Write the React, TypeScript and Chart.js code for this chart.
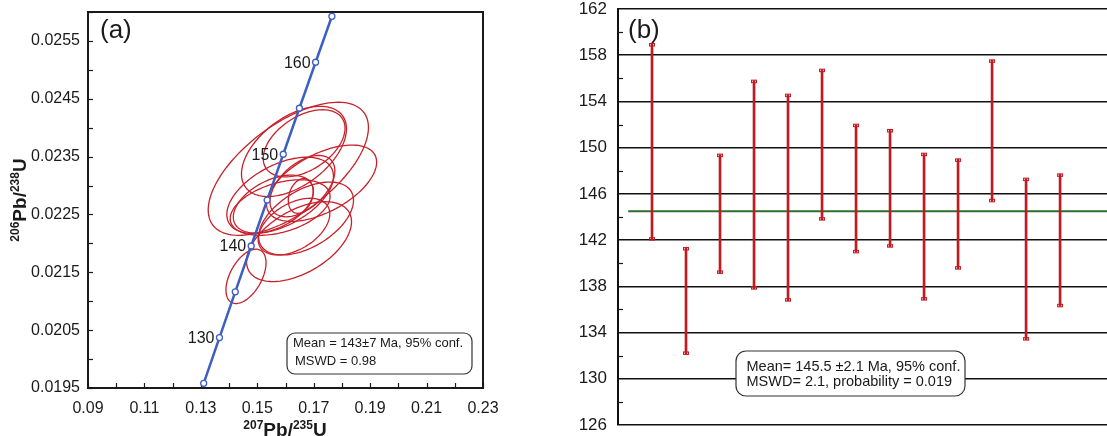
import React, { useEffect, useRef } from 'react';
import { Chart, registerables } from 'chart.js';

Chart.register(...registerables);

const FONT = '"Liberation Sans", Arial, Helvetica, sans-serif';
const BLUE = '#3d5fc2';
const ELL_RED = '#c8202a';
const BAR_RED = '#c21a22';
const GREEN = '#2f6b2f';
const INK = '#1a1a1a';

// ---------- Panel (a): concordia ----------
const concordiaAges = [125, 130, 135, 140, 145, 150, 155, 160, 165];
const concordiaX = [0.13100, 0.13659, 0.14220, 0.14784, 0.15350, 0.15920, 0.16492, 0.17067, 0.17645];
const concordiaY = [0.019580, 0.020371, 0.021163, 0.021955, 0.022748, 0.023541, 0.024336, 0.025131, 0.025926];
const labelledAges = [130, 140, 150, 160];

// error ellipses: centre, half-extent in x and y, correlation
const ellCx = [0.1610, 0.1630, 0.1666, 0.1728, 0.1581, 0.1581, 0.1654, 0.1660, 0.1673, 0.1648, 0.1630, 0.1460, 0.1557];
const ellCy = [0.02329, 0.02359, 0.02373, 0.02304, 0.02283, 0.02262, 0.02282, 0.02299, 0.02243, 0.02203, 0.02229, 0.02143, 0.02268];
const ellSx = [0.0284, 0.0186, 0.0145, 0.0195, 0.0189, 0.0177, 0.0044, 0.0115, 0.0168, 0.0186, 0.0127, 0.0071, 0.0142];
const ellSy = [0.00115, 0.00078, 0.00058, 0.00066, 0.00066, 0.00048, 0.00030, 0.00053, 0.00063, 0.00069, 0.00049, 0.00047, 0.00050];
const ellRho = [0.62, 0.5, 0.45, 0.55, 0.5, 0.4, 0.25, 0.5, 0.5, 0.5, 0.45, 0.5, 0.45];

const xTicksA = [0.09, 0.10, 0.11, 0.12, 0.13, 0.14, 0.15, 0.16, 0.17, 0.18, 0.19, 0.20, 0.21, 0.22, 0.23];
const yTicksA = [0.0195, 0.0200, 0.0205, 0.0210, 0.0215, 0.0220, 0.0225, 0.0230, 0.0235, 0.0240, 0.0245, 0.0250, 0.0255, 0.0260];

const xTitleA: [string, boolean][] = [['207', true], ['Pb', false], ['/', false], ['235', true], ['U', false]];
const yTitleA: [string, boolean][] = [['206', true], ['Pb', false], ['/', false], ['238', true], ['U', false]];
const boxLinesA = ['Mean = 143\u00b17 Ma, 95% conf.', 'MSWD = 0.98'];

// ---------- Panel (b): weighted mean ----------
const spotIndex = [1, 2, 3, 4, 5, 6, 7, 8, 9, 10, 11, 12, 13];
const ageHigh = [158.97, 141.32, 149.40, 155.80, 154.59, 156.75, 151.99, 151.53, 149.48, 148.99, 157.56, 147.32, 147.69];
const ageLow = [142.04, 132.15, 139.16, 137.80, 136.76, 143.77, 140.94, 141.43, 136.85, 139.53, 145.36, 133.39, 136.27];
const weightedMean = 144.5;
const meanLineStart = 0.3;
const xMaxB = 14.38;
const yTicksB = [126, 128, 130, 132, 134, 136, 138, 140, 142, 144, 146, 148, 150, 152, 154, 156, 158, 160, 162];
const boxLinesB = ['Mean= 145.5 \u00b12.1 Ma, 95% conf.', 'MSWD= 2.1, probability = 0.019'];

function drawRich(ctx: CanvasRenderingContext2D, parts: [string, boolean][], x: number, y: number) {
  const main = `bold 19px ${FONT}`;
  const sup = `bold 12px ${FONT}`;
  const widths = parts.map(([t, s]) => { ctx.font = s ? sup : main; return ctx.measureText(t).width; });
  const total = widths.reduce((a, b) => a + b, 0);
  let cx = x - total / 2;
  ctx.textAlign = 'left';
  ctx.textBaseline = 'alphabetic';
  parts.forEach(([t, s], i) => {
    ctx.font = s ? sup : main;
    ctx.fillText(t, cx, s ? y - 7 : y);
    cx += widths[i];
  });
}

function roundBox(ctx: CanvasRenderingContext2D, x: number, y: number, w: number, h: number, r: number, lw: number) {
  ctx.beginPath();
  ctx.roundRect(x, y, w, h, r);
  ctx.fillStyle = '#fff';
  ctx.fill();
  ctx.lineWidth = lw;
  ctx.strokeStyle = '#333';
  ctx.stroke();
}

const noPad = (s: any) => { s.paddingTop = 0; s.paddingBottom = 0; };

const panelAPlugin = {
  id: 'panelA',
  beforeDatasetsDraw(chart: any) {
    const { ctx, chartArea: a, scales } = chart;
    const xs = scales.x, ys = scales.y;
    ctx.save();
    ctx.beginPath();
    ctx.rect(a.left, a.top, a.right - a.left, a.bottom - a.top);
    ctx.clip();
    ctx.strokeStyle = ELL_RED;
    ctx.lineWidth = 1.3;
    for (let i = 0; i < ellCx.length; i++) {
      const r = ellRho[i];
      const q = Math.sqrt(1 - r * r);
      ctx.beginPath();
      for (let k = 0; k <= 120; k++) {
        const t = (k / 120) * Math.PI * 2;
        const vx = ellCx[i] + ellSx[i] * Math.cos(t);
        const vy = ellCy[i] + ellSy[i] * (r * Math.cos(t) + q * Math.sin(t));
        const px = xs.getPixelForValue(vx);
        const py = ys.getPixelForValue(vy);
        if (k === 0) ctx.moveTo(px, py); else ctx.lineTo(px, py);
      }
      ctx.closePath();
      ctx.stroke();
    }
    ctx.restore();

    ctx.save();
    ctx.strokeStyle = INK;
    ctx.lineWidth = 1.2;
    xs.ticks.forEach((t: any) => {
      const px = Math.round(xs.getPixelForValue(t.value)) + 0.5;
      ctx.beginPath(); ctx.moveTo(px, a.bottom); ctx.lineTo(px, a.bottom - 5); ctx.stroke();
    });
    ys.ticks.forEach((t: any) => {
      const py = Math.round(ys.getPixelForValue(t.value)) + 0.5;
      ctx.beginPath(); ctx.moveTo(a.left, py); ctx.lineTo(a.left + 5, py); ctx.stroke();
    });
    ctx.lineWidth = 2;
    ctx.strokeRect(a.left, a.top, a.right - a.left, a.bottom - a.top);
    ctx.restore();
  },
  afterDraw(chart: any) {
    const { ctx, chartArea: a, scales } = chart;
    const xs = scales.x, ys = scales.y;
    ctx.save();
    ctx.fillStyle = INK;
    ctx.font = `16px ${FONT}`;
    ctx.textAlign = 'right';
    ctx.textBaseline = 'middle';
    labelledAges.forEach((age) => {
      const i = concordiaAges.indexOf(age);
      ctx.fillText(String(age), xs.getPixelForValue(concordiaX[i]) - 5, ys.getPixelForValue(concordiaY[i]) + 1);
    });
    ctx.font = `26px ${FONT}`;
    ctx.textAlign = 'left';
    ctx.fillText('(a)', a.left + 12, a.top + 19);

    roundBox(ctx, a.left + 199, a.bottom - 55, 185, 41, 8, 1.2);
    ctx.fillStyle = INK;
    ctx.font = `13px ${FONT}`;
    ctx.textAlign = 'left';
    ctx.textBaseline = 'middle';
    ctx.fillText(boxLinesA[0], a.left + 205, a.bottom - 44.5);
    ctx.fillText(boxLinesA[1], a.left + 207, a.bottom - 26.5);

    drawRich(ctx, xTitleA, (a.left + a.right) / 2 - 0.5, 436);
    ctx.translate(26, (a.top + a.bottom) / 2);
    ctx.rotate(-Math.PI / 2);
    drawRich(ctx, yTitleA, 0, 0);
    ctx.restore();
  },
};

const panelBPlugin = {
  id: 'panelB',
  beforeDatasetsDraw(chart: any) {
    const { ctx, chartArea: a, scales } = chart;
    const ys = scales.y;
    ctx.save();
    ctx.strokeStyle = INK;
    ctx.lineWidth = 1.2;
    ys.ticks.forEach((t: any) => {
      if ((t.value - yTicksB[0]) % 4 === 0) return;
      const py = Math.round(ys.getPixelForValue(t.value)) + 0.5;
      ctx.beginPath(); ctx.moveTo(a.left, py); ctx.lineTo(a.left + 5, py); ctx.stroke();
    });
    ctx.restore();
  },
  afterDatasetsDraw(chart: any) {
    const { ctx, scales } = chart;
    const xs = scales.x, ys = scales.y;
    ctx.save();
    ctx.strokeStyle = BAR_RED;
    ctx.lineWidth = 1;
    spotIndex.forEach((s, i) => {
      const px = xs.getPixelForValue(s);
      const top = ys.getPixelForValue(ageHigh[i]);
      const bot = ys.getPixelForValue(ageLow[i]);
      ctx.strokeRect(px - 2.5, top - 0.5, 5, 2.5);
      ctx.strokeRect(px - 2.5, bot - 2, 5, 2.5);
    });
    ctx.restore();
  },
  afterDraw(chart: any) {
    const { ctx, chartArea: a } = chart;
    ctx.save();
    ctx.fillStyle = INK;
    ctx.font = `26px ${FONT}`;
    ctx.textAlign = 'left';
    ctx.textBaseline = 'middle';
    ctx.fillText('(b)', a.left + 10, a.top + 22);

    roundBox(ctx, a.left + 118, a.bottom - 74, 229, 45, 10, 1.2);
    ctx.fillStyle = INK;
    ctx.font = `14.5px ${FONT}`;
    ctx.fillText(boxLinesB[0], a.left + 128.5, a.bottom - 58.5);
    ctx.fillText(boxLinesB[1], a.left + 128.5, a.bottom - 43);
    ctx.restore();
  },
};

export default function App() {
  const refA = useRef<HTMLCanvasElement>(null);
  const refB = useRef<HTMLCanvasElement>(null);

  useEffect(() => {
    const chartA = new Chart(refA.current!, {
      type: 'scatter',
      data: {
        datasets: [{
          data: concordiaAges.map((_, i) => ({ x: concordiaX[i], y: concordiaY[i] })),
          showLine: true,
          borderColor: BLUE,
          borderWidth: 2.5,
          pointRadius: 3,
          pointBackgroundColor: '#fff',
          pointBorderColor: BLUE,
          pointBorderWidth: 1.3,
          clip: false,
        }],
      },
      options: {
        animation: false,
        responsive: false,
        maintainAspectRatio: false,
        layout: { autoPadding: false, padding: { left: 0, right: 77, top: 12, bottom: 0 } },
        plugins: { legend: { display: false }, tooltip: { enabled: false } },
        scales: {
          x: {
            type: 'linear', min: 0.09, max: 0.23,
            afterBuildTicks: (s: any) => { s.ticks = xTicksA.map((v) => ({ value: v })); },
            afterFit: (s: any) => { s.height = 48; s.paddingLeft = 0; s.paddingRight = 0; },
            ticks: {
              autoSkip: false, maxRotation: 0, minRotation: 0, padding: 11, color: INK,
              font: { family: FONT, size: 16 },
              callback: (v: any, i: number) => (i % 2 === 0 ? Number(v).toFixed(2) : ''),
            },
            grid: { display: false, drawTicks: false },
            border: { display: false },
          },
          y: {
            type: 'linear', min: 0.0195, max: 0.026,
            afterBuildTicks: (s: any) => { s.ticks = yTicksA.map((v) => ({ value: v })); },
            afterFit: (s: any) => { s.width = 88; noPad(s); },
            ticks: {
              autoSkip: false, padding: 8, color: INK,
              font: { family: FONT, size: 16, lineHeight: 1 },
              callback: (v: any, i: number) => (i % 2 === 0 ? Number(v).toFixed(4) : ''),
            },
            grid: { display: false, drawTicks: false },
            border: { display: false },
          },
        },
      },
      plugins: [panelAPlugin],
    } as any);

    const chartB = new Chart(refB.current!, {
      type: 'bar',
      data: {
        datasets: [
          {
            type: 'bar',
            data: spotIndex.map((s, i) => ({ x: s, y: [ageLow[i], ageHigh[i]] })),
            backgroundColor: BAR_RED,
            barThickness: 2,
            borderWidth: 0,
            order: 1,
          } as any,
          {
            type: 'line',
            data: [{ x: meanLineStart, y: weightedMean }, { x: xMaxB, y: weightedMean }],
            borderColor: GREEN,
            borderWidth: 2,
            pointRadius: 0,
            order: 2,
          },
        ],
      },
      options: {
        animation: false,
        responsive: false,
        maintainAspectRatio: false,
        layout: { autoPadding: false, padding: { left: 0, right: 0, top: 9, bottom: 11 } },
        plugins: { legend: { display: false }, tooltip: { enabled: false } },
        scales: {
          x: { type: 'linear', min: 0, max: xMaxB, offset: false, display: false },
          y: {
            type: 'linear', min: 126, max: 162,
            afterBuildTicks: (s: any) => { s.ticks = yTicksB.map((v) => ({ value: v })); },
            afterFit: (s: any) => { s.width = 58; noPad(s); },
            ticks: {
              autoSkip: false, padding: 11, color: INK,
              font: { family: FONT, size: 17, lineHeight: 1 },
              callback: (v: any) => ((Number(v) - yTicksB[0]) % 4 === 0 ? String(v) : ''),
            },
            grid: {
              drawTicks: false,
              lineWidth: 1.6,
              color: (c: any) => (c.tick && (c.tick.value - yTicksB[0]) % 4 === 0 ? '#111' : 'rgba(0,0,0,0)'),
            },
            border: { display: true, color: '#111', width: 2 },
          },
        },
      },
      plugins: [panelBPlugin],
    } as any);

    return () => { chartA.destroy(); chartB.destroy(); };
  }, []);

  return (
    <div style={{ position: 'fixed', left: 0, top: 0, width: 1107, height: 436, background: '#fff', overflow: 'hidden' }}>
      <canvas ref={refA} width={560} height={436} style={{ position: 'absolute', left: 0, top: 0 }} />
      <canvas ref={refB} width={547} height={436} style={{ position: 'absolute', left: 560, top: 0 }} />
    </div>
  );
}
